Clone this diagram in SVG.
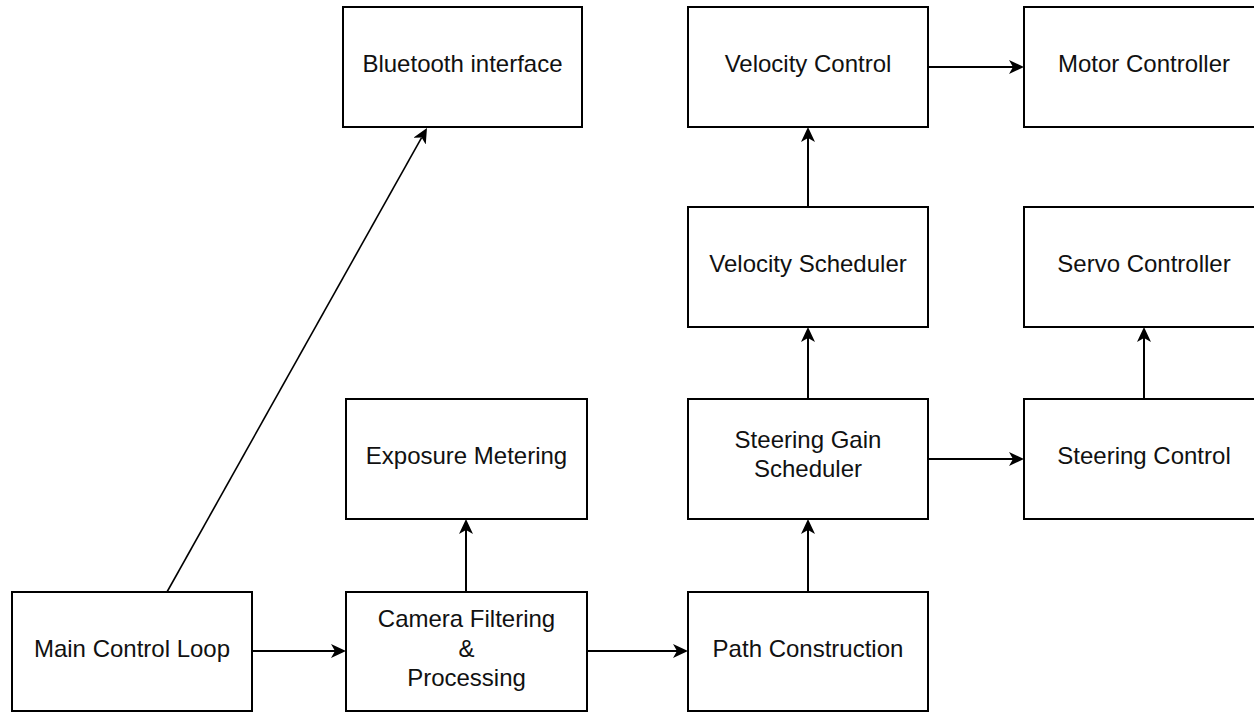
<svg xmlns="http://www.w3.org/2000/svg" width="1254" height="712" viewBox="0 0 1254 712">
<style>
.box{fill:#fff;stroke:#000;stroke-width:2}
.lbl{font-family:"Liberation Sans",Arial,Helvetica,sans-serif;font-size:24px;fill:#111;text-anchor:middle}
.edge{fill:none;stroke:#000;stroke-width:2}
</style>
<defs>
<marker id="arr" viewBox="0 0 15 14" refX="4" refY="7" markerWidth="15" markerHeight="14" markerUnits="userSpaceOnUse" orient="auto">
<path d="M0,0 L15,7 L0,14 L4,7 Z" fill="#000"/>
</marker>
</defs>
<rect width="1254" height="712" fill="#fff"/>
<g id="connectors">
<line class="edge" x1="252" y1="651" x2="335" y2="651" marker-end="url(#arr)"/>
<line class="edge" x1="587" y1="651" x2="677" y2="651" marker-end="url(#arr)"/>
<line class="edge" x1="466" y1="592" x2="466" y2="530" marker-end="url(#arr)"/>
<line class="edge" x1="808" y1="592" x2="808" y2="530" marker-end="url(#arr)"/>
<line class="edge" x1="808" y1="399" x2="808" y2="338" marker-end="url(#arr)"/>
<line class="edge" x1="808" y1="207" x2="808" y2="138" marker-end="url(#arr)"/>
<line class="edge" x1="928" y1="67" x2="1013" y2="67" marker-end="url(#arr)"/>
<line class="edge" x1="928" y1="459" x2="1013" y2="459" marker-end="url(#arr)"/>
<line class="edge" x1="1144" y1="399" x2="1144" y2="338" marker-end="url(#arr)"/>
<line class="edge" style="stroke-width:1.6" x1="167" y1="592" x2="421.6" y2="137.6" marker-end="url(#arr)"/>
</g>
<g id="main-control-loop">
<rect class="box" x="12" y="592" width="240" height="119"/>
<text class="lbl" x="132" y="657">Main Control Loop</text>
</g>
<g id="camera-filtering">
<rect class="box" x="346" y="592" width="241" height="119"/>
<text class="lbl" x="466.5" y="627">Camera Filtering</text>
<text class="lbl" x="466.5" y="656.5">&amp;</text>
<text class="lbl" x="466.5" y="686">Processing</text>
</g>
<g id="path-construction">
<rect class="box" x="688" y="592" width="240" height="119"/>
<text class="lbl" x="808" y="657">Path Construction</text>
</g>
<g id="exposure-metering">
<rect class="box" x="346" y="399" width="241" height="120"/>
<text class="lbl" x="466.5" y="464">Exposure Metering</text>
</g>
<g id="steering-gain-scheduler">
<rect class="box" x="688" y="399" width="240" height="120"/>
<text class="lbl" x="808" y="448">Steering Gain</text>
<text class="lbl" x="808" y="477">Scheduler</text>
</g>
<g id="steering-control">
<rect class="box" x="1024" y="399" width="240" height="120"/>
<text class="lbl" x="1144" y="464">Steering Control</text>
</g>
<g id="velocity-scheduler">
<rect class="box" x="688" y="207" width="240" height="120"/>
<text class="lbl" x="808" y="272">Velocity Scheduler</text>
</g>
<g id="servo-controller">
<rect class="box" x="1024" y="207" width="240" height="120"/>
<text class="lbl" x="1144" y="272">Servo Controller</text>
</g>
<g id="velocity-control">
<rect class="box" x="688" y="7" width="240" height="120"/>
<text class="lbl" x="808" y="72">Velocity Control</text>
</g>
<g id="motor-controller">
<rect class="box" x="1024" y="7" width="240" height="120"/>
<text class="lbl" x="1144" y="72">Motor Controller</text>
</g>
<g id="bluetooth-interface">
<rect class="box" x="343" y="7" width="239" height="120"/>
<text class="lbl" x="462.5" y="72">Bluetooth interface</text>
</g>
</svg>
